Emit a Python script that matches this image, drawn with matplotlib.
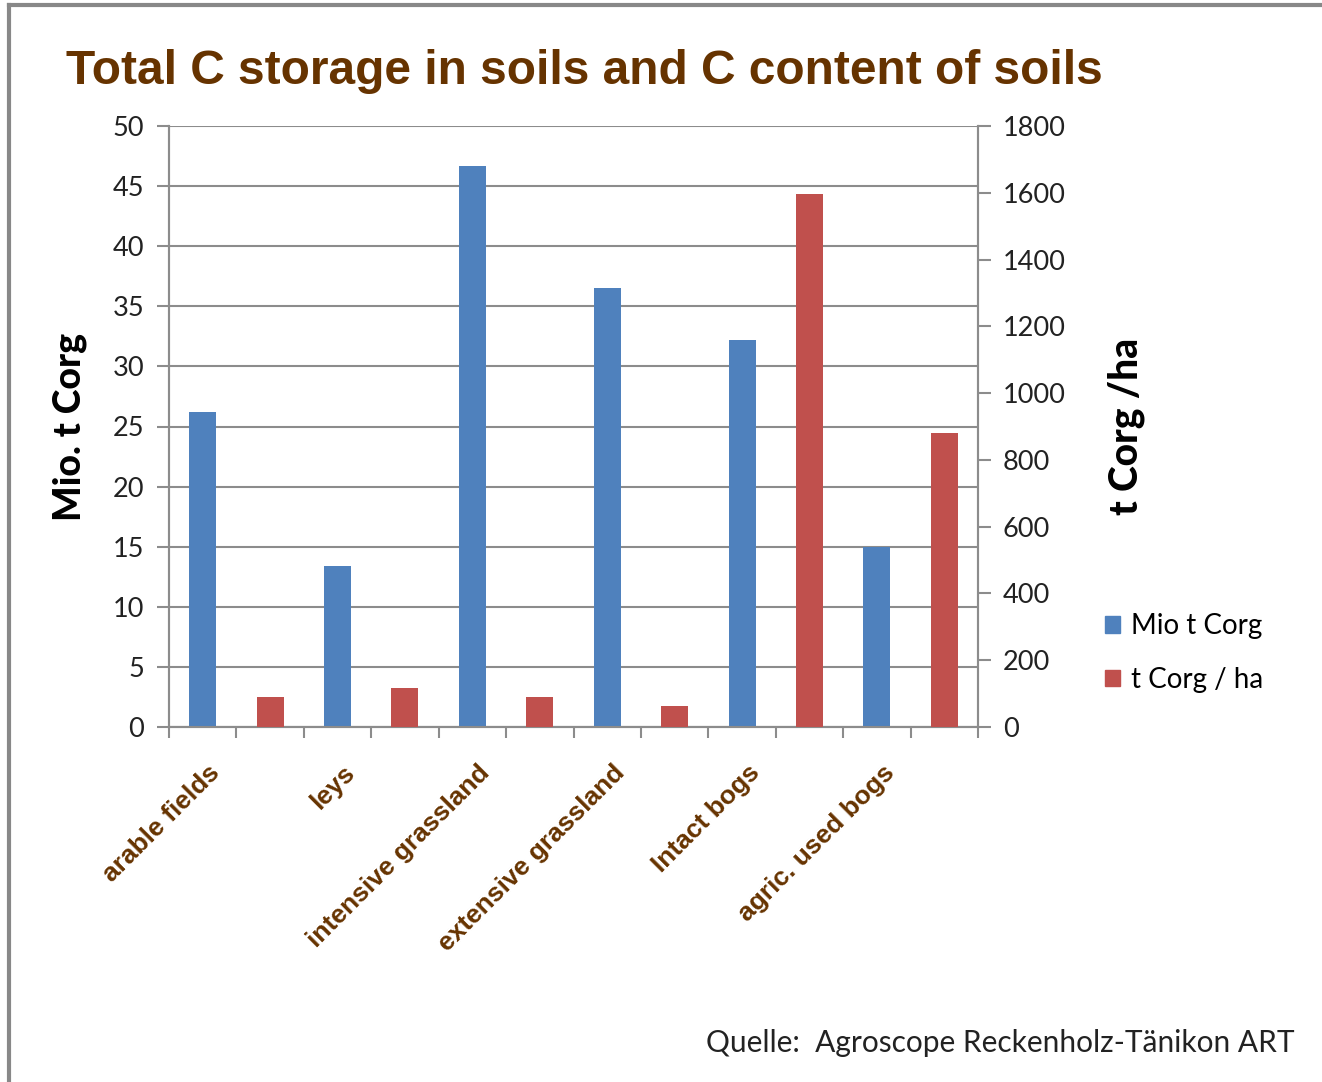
import matplotlib
matplotlib.use("Agg")
import matplotlib.pyplot as plt
from matplotlib.lines import Line2D
from matplotlib.patches import Patch
import matplotlib.transforms as mtransforms

# Soil categories and values
categories = ["arable fields", "leys", "intensive grassland", "extensive grassland",
              "Intact bogs", "agric. used bogs"]
mio_t_corg = [26.2, 13.4, 46.7, 36.5, 32.2, 15.0]      # left axis
t_corg_per_ha = [90, 117, 90, 63, 1596, 880]           # right axis
left_ticks = [0, 5, 10, 15, 20, 25, 30, 35, 40, 45, 50]
right_ticks = [0, 200, 400, 600, 800, 1000, 1200, 1400, 1600, 1800]

BLUE = "#4F81BD"
RED = "#C0504D"
BROWN = "#663300"
GRID = "#8C8C8C"
body_font = ["Lato", "DejaVu Sans"]
title_font = ["Liberation Sans", "DejaVu Sans"]

fig = plt.figure(figsize=(13.22, 10.82), dpi=100)
ax = fig.add_axes([169/1322, 1 - 727/1082, (978 - 169)/1322, (727 - 126)/1082])
ax2 = ax.twinx()

n = len(categories)
blue_x = [2 * i + 0.5 for i in range(n)]
red_x = [2 * i + 1.5 for i in range(n)]
ax.bar(blue_x, mio_t_corg, width=0.4, color=BLUE, zorder=3)
ax2.bar(red_x, t_corg_per_ha, width=0.4, color=RED, zorder=3)

ax.set_xlim(0, 2 * n)
ax.set_ylim(0, 50)
ax2.set_ylim(0, 1800)
ax.set_yticks(left_ticks)
ax2.set_yticks(right_ticks)
ax.yaxis.grid(True, color=GRID, lw=1.5, zorder=0)
ax.set_axisbelow(True)

for a in (ax, ax2):
    for s in a.spines.values():
        s.set_color(GRID)
        s.set_linewidth(1.5)
    a.spines["top"].set_visible(False)
    a.tick_params(axis="y", direction="out", length=9, width=1.5, color=GRID,
                  labelsize=19.5, pad=9, labelcolor="#222222")
for lbl in ax.get_yticklabels() + ax2.get_yticklabels():
    lbl.set_fontfamily(body_font)

# slot boundaries as bottom ticks
ax.set_xticks(list(range(0, 2 * n + 1)))
ax.set_xticklabels([])
ax.tick_params(axis="x", direction="out", length=8, width=1.5, color=GRID)

# rotated category labels
offset = mtransforms.offset_copy(ax.get_xaxis_transform(), fig=fig, x=-20, y=-42, units="dots")
for i, c in enumerate(categories):
    ax.text(2 * i + 1, 0, c, transform=offset, rotation=45, rotation_mode="anchor",
            ha="right", va="center", fontsize=19, fontweight="bold", color=BROWN,
            family=title_font)

ax.set_ylabel("Mio. t Corg", fontsize=27, fontweight="black", family=body_font, labelpad=18)
ax2.set_ylabel("t Corg /ha", fontsize=28, fontweight="black", family=body_font, labelpad=30)

fig.text(66/1322, 1 - 71/1082, "Total C storage in soils and C content of soils",
         fontsize=34.5, fontweight="bold", color=BROWN, family=title_font,
         ha="left", va="center")

handles = [Patch(color=BLUE, label="Mio t Corg"), Patch(color=RED, label="t Corg / ha")]
fig.legend(handles=handles, loc="center left", bbox_to_anchor=(1080/1322, 1 - 653/1082),
           frameon=False, prop={"family": body_font, "size": 20}, handlelength=0.55,
           handleheight=0.55, handletextpad=0.4, labelspacing=1.0)

fig.text(706/1322, 1 - 1043/1082, "Quelle:  Agroscope Reckenholz-Tänikon ART",
         fontsize=21.5, family=body_font, ha="left", va="center", color="#222222")

# frame lines on the top and left edges
fig.add_artist(Line2D([9/1322, 1], [1 - 5/1082, 1 - 5/1082], color="#888888", lw=3,
                      transform=fig.transFigure))
fig.add_artist(Line2D([9/1322, 9/1322], [0, 1 - 5/1082], color="#888888", lw=3,
                      transform=fig.transFigure))

fig.savefig("out.png", dpi=100)
